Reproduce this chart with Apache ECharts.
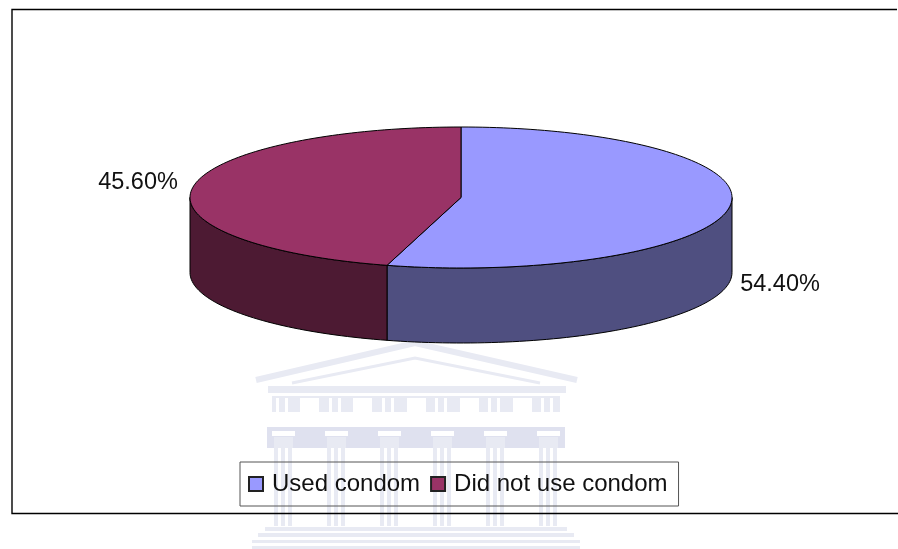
<!DOCTYPE html>
<html><head><meta charset="utf-8">
<style>html,body{margin:0;padding:0;background:#fff}#c{width:898px;height:549px}</style>
<script src="https://cdn.jsdelivr.net/npm/echarts@6/dist/echarts.min.js"></script>
</head><body><div id="c"></div>
<script>
const categories = ['Used condom', 'Did not use condom'];
const percentValues = [54.4, 45.6];
const topColors = ['#9999FF', '#993366'];
const sideColors = ['#4F4F80', '#4D1A33'];

const PIE = {cx: 461, cy: 197.5, rx: 271, ry: 70.5, depth: 75};
const LABEL_POS = [[780, 285], [138, 183]];
const FONT = '"Liberation Sans", Arial, sans-serif';

function pt(deg, dy) {
  const t = deg * Math.PI / 180;
  return [PIE.cx + PIE.rx * Math.sin(t), PIE.cy - PIE.ry * Math.cos(t) + (dy || 0)];
}
function arc(a0, a1, dy) {
  const out = [], n = Math.max(2, Math.ceil(Math.abs(a1 - a0) / 1.5));
  for (let i = 0; i <= n; i++) out.push(pt(a0 + (a1 - a0) * i / n, dy));
  return out;
}
function renderSlice(index) {
  return function (params, api) {
    const value = api.value(0), start = api.value(1);
    const a0 = start * 3.6, a1 = (start + value) * 3.6;
    const children = [];
    const w0 = Math.max(a0, 90), w1 = Math.min(a1, 270);
    if (w1 > w0) {
      const points = arc(w0, w1, 0).concat(arc(w1, w0, PIE.depth));
      children.push({type: 'polygon', shape: {points},
        style: {fill: sideColors[index], stroke: '#000', lineWidth: 1}});
    }
    const top = [[PIE.cx, PIE.cy]].concat(arc(a0, a1, 0));
    children.push({type: 'polygon', shape: {points: top},
      style: {fill: topColors[index], stroke: '#000', lineWidth: 1}});
    children.push({type: 'text', style: {
      text: value.toFixed(2) + '%', x: LABEL_POS[index][0], y: LABEL_POS[index][1],
      align: 'center', verticalAlign: 'middle',
      font: '23.5px ' + FONT, fill: '#111'}});
    return {type: 'group', children};
  };
}

/* faint crest watermark behind the chart */
const wm = [];
const W1 = '#e8eaf3', W2 = '#dfe1ef';
function rect(x, y, w, h, fill) { wm.push({type: 'rect', silent: true, z: -5, shape: {x, y, width: w, height: h}, style: {fill}}); }
function line(points, width, stroke) { wm.push({type: 'polyline', silent: true, z: -5, shape: {points}, style: {stroke, lineWidth: width, fill: null}}); }
line([[256, 380], [415, 343], [577, 380]], 6, W1);
line([[292, 383], [415, 358], [540, 383]], 3, W1);
rect(268, 386, 298, 7, W1);
rect(272, 396, 288, 16, W1);
[300, 353, 407, 460, 513].forEach(x => rect(x, 398, 19, 14, '#fff'));
[276, 329, 382, 435, 488, 541].forEach(x => { rect(x, 398, 3, 14, '#fff'); rect(x + 9, 398, 3, 14, '#fff'); });
rect(267, 427, 298, 21, W2);
[272, 325, 378, 431, 484, 537].forEach(x => {
  rect(x, 431, 23, 5, '#fff');
  rect(x + 2, 448, 4, 78, W1); rect(x + 9, 448, 4, 78, W1); rect(x + 16, 448, 4, 78, W1);
  rect(x + 2, 437, 19, 11, W1);
});
rect(265, 527, 302, 4, W1);
rect(258, 533, 316, 4, W1);
rect(252, 540, 328, 3, W1);
rect(252, 546, 328, 3, W1);

/* frame */
const frame = {type: 'polyline', silent: true, z: -1,
  shape: {points: [[897, 9.5], [12, 9.5], [12, 513.5], [898, 513.5]]},
  style: {stroke: '#000', lineWidth: 1.4, fill: null}};

let cumulative = 0;
const series = categories.map((name, i) => {
  const s = {
    type: 'custom', name, coordinateSystem: 'none', silent: true,
    itemStyle: {color: topColors[i], borderColor: '#222', borderWidth: 1},
    renderItem: renderSlice(i),
    data: [[percentValues[i], cumulative]]
  };
  cumulative += percentValues[i];
  return s;
});

const chart = echarts.init(document.getElementById('c'), null, {renderer: 'canvas'});
chart.setOption({
  animation: false,
  backgroundColor: '#fff',
  graphic: {elements: wm.concat([frame])},
  legend: {
    data: categories, left: 240, top: 462, orient: 'horizontal',
    padding: [10, 11, 10, 8], itemGap: 10, itemWidth: 14, itemHeight: 14, icon: 'rect',
    borderColor: '#555', borderWidth: 1, backgroundColor: 'transparent',
    selectedMode: false,
    textStyle: {fontFamily: FONT, fontSize: 24, color: '#111', padding: [0, 0, 0, 4]}
  },
  series
});
</script></body></html>
